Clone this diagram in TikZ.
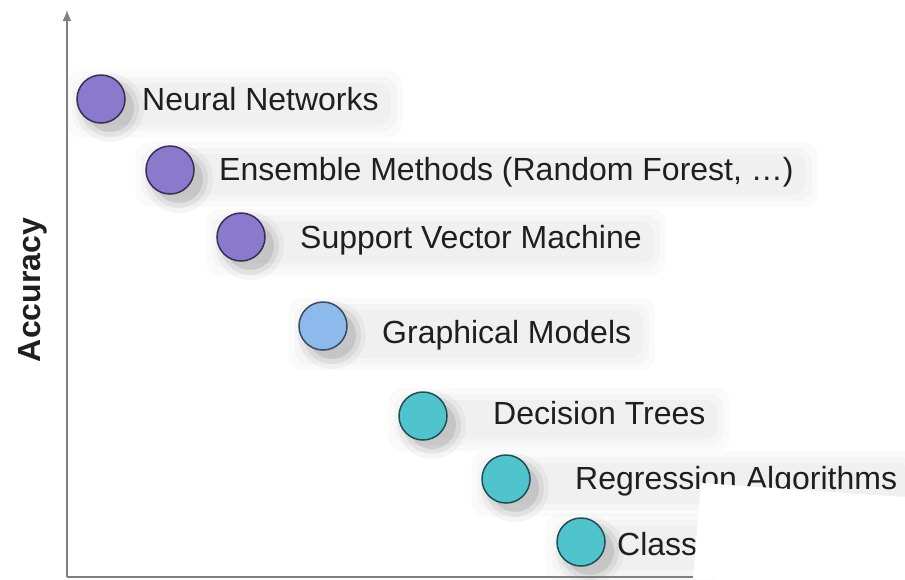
\documentclass[tikz,border=0pt]{standalone}
\usepackage{fontspec}
\setmainfont{Liberation Sans}
\usepackage{tikz}
\usetikzlibrary{positioning, arrows.meta, backgrounds}
\definecolor{alg_purple}{RGB}{138, 121, 204}
\definecolor{alg_blue}{RGB}{141, 186, 236}
\definecolor{alg_teal}{RGB}{80, 196, 204}

\begin{document}
\begin{tikzpicture}[x=1pt, y=-1pt, >={Latex[length=11pt, width=9pt]},
    algo/.style={circle, draw=#1!40!black, line width=1.5pt, minimum size=48pt,
      inner sep=0pt, fill=#1},
    lbl/.style={anchor=west, inner sep=0pt, text height=23pt, text depth=0pt,
      font=\fontsize{32}{36}\selectfont, text=black!88},
    axis/.style={draw=black!50, line width=1.6pt}]
  \useasboundingbox (0,0) rectangle (905,579);

  % axes
  \coordinate (origin) at (67,577);
  \coordinate (ytop)   at (67,10);
  \coordinate (xend)   at (905,577);
  \draw[axis, ->] (origin) -- (ytop);
  \draw[axis] (origin) -- (xend);
  \node[rotate=90, font=\bfseries\fontsize{32}{36}\selectfont, text=black!88] (acc) at (33,290) {Accuracy};

  % algorithms, most accurate first
  \node[algo=alg_purple] (c1) at (101,99)  {};
  \node[algo=alg_purple] (c2) at (170,170) {};
  \node[algo=alg_purple] (c3) at (241,237) {};
  \node[algo=alg_blue]   (c4) at (323,326) {};
  \node[algo=alg_teal]   (c5) at (423,416) {};
  \node[algo=alg_teal]   (c6) at (506,479) {};
  \node[algo=alg_teal]   (c7) at (581,542) {};

  \node[lbl] (t1) at (142,99)  {Neural Networks};
  \node[lbl] (t2) at (219,169) {Ensemble Methods (Random Forest, …)};
  \node[lbl] (t3) at (300,237) {Support Vector Machine};
  \node[lbl] (t4) at (382,332) {Graphical Models};
  \node[lbl] (t5) at (493,413) {Decision Trees};
  \node[lbl] (t6) at (575,478) {Regression Algorithms};
  \node[lbl] (t7) at (617,544) {Class};

  % soft shadows behind each row
  \begin{scope}[on background layer]
    \foreach \i in {1,...,7} {
      \foreach \d/\o in {12/0.02, 6/0.02, 0/0.02}
        \fill[black, opacity=\o, rounded corners=14pt]
          ([xshift=-10pt+\d pt, yshift=28pt-\d pt]c\i.west)
          rectangle ([xshift=24pt-\d pt, yshift=-38pt+\d pt]t\i.east);
      \foreach \r/\o in {34/0.04, 29/0.06, 24/0.09}
        \fill[black, opacity=\o, shift={(c\i.center)}] (9,9) circle[radius=\r];
    }
  \end{scope}

  % torn-off corner
  \fill[white] (701,483) -- (905,497) -- (905,579) -- (693,579) -- cycle;
\end{tikzpicture}
\end{document}
